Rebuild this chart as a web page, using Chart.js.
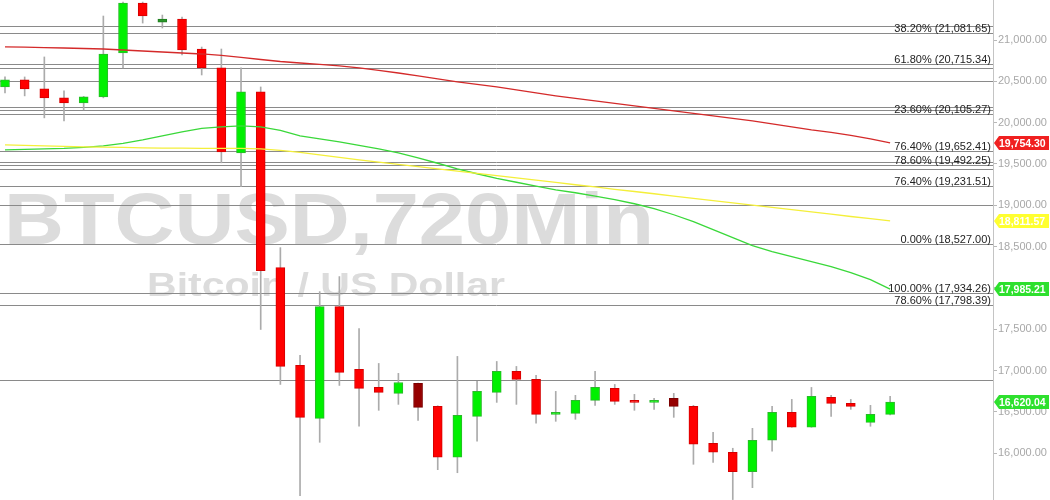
<!DOCTYPE html>
<html lang="en">
<head>
  <meta charset="UTF-8" />
  <title>BTCUSD 720Min</title>
  <script src="https://cdn.jsdelivr.net/npm/chart.js@4.4.1/dist/chart.umd.min.js"></script>
  <style>
    html, body { margin: 0; padding: 0; background: #fff; }
    #wrap { width: 1050px; height: 500px; position: relative; }
  </style>
</head>
<body>
  <div id="wrap">
    <canvas id="chart"></canvas>
  </div>

  <script>
    // candles, 720 min each
    const opens  = [20432, 20517, 20408, 20300, 20239, 20312, 20843, 21447, 21217, 21254,
                    20891, 20662, 19635, 20372, 18246, 17063, 16423, 17775, 17015, 16797,
                    16725, 16845, 16568, 15952, 16447, 16737, 16991, 16894, 16471, 16483,
                    16640, 16785, 16640, 16616, 16665, 16568, 16121, 16013, 15777, 16158,
                    16495, 16315, 16677, 16604, 16375, 16471];
    const highs  = [20553, 20553, 20795, 20384, 20318, 21290, 21459, 21459, 21302, 21278,
                    20915, 20891, 20662, 20432, 18488, 17184, 17956, 18138, 17510, 17087,
                    16967, 16850, 16575, 17172, 16870, 17111, 17051, 16943, 16749, 16701,
                    16991, 16833, 16713, 16665, 16725, 16580, 16254, 16061, 16302, 16568,
                    16652, 16797, 16701, 16652, 16580, 16689];
    const lows   = [20360, 20324, 20058, 20022, 20155, 20300, 20662, 21205, 21145, 20819,
                    20577, 19514, 19225, 17498, 16833, 15488, 16133, 16821, 16327, 16520,
                    16592, 16399, 15802, 15765, 16146, 16616, 16592, 16363, 16387, 16411,
                    16580, 16592, 16520, 16532, 16435, 15867, 15891, 15440, 15584, 16025,
                    16315, 16315, 16447, 16532, 16327, 16465];
    const closes = [20517, 20408, 20300, 20239, 20312, 20831, 21447, 21290, 21254, 20879,
                    20662, 19647, 20372, 18210, 17051, 16435, 17775, 16979, 16785, 16737,
                    16857, 16556, 15952, 16459, 16749, 16991, 16894, 16471, 16495, 16640,
                    16797, 16628, 16616, 16640, 16568, 16109, 16013, 15777, 16158, 16495,
                    16315, 16689, 16604, 16568, 16471, 16620.04];
    const darkCandles = [8, 21, 34];

    // moving averages
    const maRed = [20918, 20913, 20908, 20903, 20897, 20891, 20879, 20867, 20855, 20843,
                   20831, 20813, 20789, 20764, 20740, 20722, 20704, 20686, 20662, 20632,
                   20601, 20565, 20529, 20493, 20462, 20432, 20396, 20360, 20324, 20293,
                   20263, 20233, 20203, 20173, 20142, 20112, 20082, 20052, 20022, 19985,
                   19949, 19913, 19883, 19847, 19804, 19754.30];
    const maYellow = [19732, 19726, 19720, 19714, 19708, 19704, 19700, 19696, 19693, 19691,
                      19690, 19688, 19688, 19683, 19665, 19641, 19611, 19581, 19551, 19523,
                      19496, 19469, 19441, 19413, 19386, 19359, 19331, 19304, 19277, 19249,
                      19222, 19194, 19167, 19140, 19112, 19085, 19057, 19030, 19002, 18975,
                      18948, 18920, 18893, 18865, 18838, 18811.57];
    const maGreen = [19671, 19678, 19684, 19690, 19702, 19720, 19750, 19792, 19841, 19889,
                     19931, 19949, 19961, 19949, 19907, 19841, 19804, 19768, 19726, 19684,
                     19635, 19575, 19509, 19442, 19382, 19327, 19279, 19231, 19188, 19152,
                     19110, 19068, 19019, 18959, 18886, 18802, 18705, 18609, 18512, 18440,
                     18379, 18319, 18258, 18186, 18101, 17985.21];

    // fibonacci levels with labels, plus the plain lines
    const fibLevels = [21081.65, 20715.34, 20105.27, 19652.41, 19492.25, 19231.51, 18527.00, 17934.26, 17798.39];
    const fibPercents = ["38.20%", "61.80%", "23.60%", "76.40%", "78.60%", "76.40%", "0.00%", "100.00%", "78.60%"];
    const plainLevels = [21169, 20662, 20500, 20191, 20155, 19527, 19442, 19000, 16882];

    const yTicks = [16000, 16500, 17000, 17500, 18000, 18500, 19000, 19500, 20000, 20500, 21000];

    const fmt = v => v.toLocaleString("en-US", { minimumFractionDigits: 2, maximumFractionDigits: 2 });

    const GREEN = "#00f000", RED = "#ff0000";
    const bodyFill = opens.map((o, i) => {
      const up = closes[i] >= o;
      if (darkCandles.includes(i)) return up ? "#2a962a" : "#960000";
      return up ? GREEN : RED;
    });
    const bodyBorder = opens.map((o, i) => {
      const up = closes[i] >= o;
      if (darkCandles.includes(i)) return up ? "#1f7d1f" : "#7a0000";
      return up ? "#2bb82b" : "#d40000";
    });

    const idx = opens.map((_, i) => i);

    const backdrop = {
      id: "backdrop",
      beforeDraw(chart) {
        const { ctx } = chart;
        ctx.save();
        ctx.fillStyle = "#fff";
        ctx.fillRect(0, 0, chart.width, chart.height);
        ctx.fillStyle = "#dcdcdc";
        ctx.textBaseline = "alphabetic";
        ctx.font = "bold 73px 'Liberation Sans', Arial, sans-serif";
        let w = ctx.measureText("BTCUSD,720Min").width;
        ctx.save();
        ctx.translate(4, 244);
        ctx.scale(650 / w, 1);
        ctx.fillText("BTCUSD,720Min", 0, 0);
        ctx.restore();
        ctx.font = "bold 33px 'Liberation Sans', Arial, sans-serif";
        w = ctx.measureText("Bitcoin / US Dollar").width;
        ctx.save();
        ctx.translate(147, 296);
        ctx.scale(358 / w, 1);
        ctx.fillText("Bitcoin / US Dollar", 0, 0);
        ctx.restore();
        ctx.restore();
      },
      beforeDatasetsDraw(chart) {
        const { ctx, chartArea: a, scales: { y } } = chart;
        ctx.save();
        ctx.strokeStyle = "#8a8a8a";
        ctx.lineWidth = 1;
        [...plainLevels, ...fibLevels].forEach(v => {
          const py = Math.round(y.getPixelForValue(v)) + 0.5;
          ctx.beginPath();
          ctx.moveTo(a.left, py);
          ctx.lineTo(a.right, py);
          ctx.stroke();
        });
        ctx.fillStyle = "#222";
        ctx.font = "11px 'Liberation Sans', Arial, sans-serif";
        ctx.textAlign = "right";
        ctx.textBaseline = "bottom";
        fibLevels.forEach((v, i) => {
          const py = Math.round(y.getPixelForValue(v));
          ctx.fillText(`${fibPercents[i]} (${fmt(v)})`, a.right - 2, py + 1);
        });
        ctx.restore();
      },
      afterDraw(chart) {
        const { ctx, chartArea: a, scales: { y } } = chart;
        const tags = [
          [maRed[maRed.length - 1], "#f02020"],
          [maYellow[maYellow.length - 1], "#ffff30"],
          [maGreen[maGreen.length - 1], "#2ee02e"],
          [closes[closes.length - 1], "#2ee02e"]
        ];
        ctx.save();
        ctx.font = "bold 10.5px 'Liberation Sans', Arial, sans-serif";
        ctx.textBaseline = "middle";
        ctx.textAlign = "left";
        tags.forEach(([v, c]) => {
          const py = Math.round(y.getPixelForValue(v));
          const x0 = a.right + 1, h = 14;
          ctx.fillStyle = c;
          ctx.beginPath();
          ctx.moveTo(x0, py);
          ctx.lineTo(x0 + 5, py - h / 2);
          ctx.lineTo(1049, py - h / 2);
          ctx.lineTo(1049, py + h / 2);
          ctx.lineTo(x0 + 5, py + h / 2);
          ctx.closePath();
          ctx.fill();
          ctx.fillStyle = "#fff";
          ctx.fillText(fmt(v), x0 + 5, py + 1);
        });
        ctx.restore();
      }
    };

    new Chart(document.getElementById("chart"), {
      type: "bar",
      data: {
        datasets: [
          {
            type: "line",
            data: idx.map(i => ({ x: i, y: maRed[i] })),
            borderColor: "#d42a2a",
            borderWidth: 1.3,
            pointRadius: 0,
            order: 0
          },
          {
            type: "line",
            data: idx.map(i => ({ x: i, y: maYellow[i] })),
            borderColor: "#f4ef3a",
            borderWidth: 1.3,
            pointRadius: 0,
            order: 0
          },
          {
            type: "line",
            data: idx.map(i => ({ x: i, y: maGreen[i] })),
            borderColor: "#3ad83a",
            borderWidth: 1.3,
            pointRadius: 0,
            order: 0
          },
          {
            data: idx.map(i => ({ x: i, y: [opens[i], closes[i]] })),
            backgroundColor: bodyFill,
            borderColor: bodyBorder,
            borderWidth: 1,
            borderSkipped: false,
            barThickness: 9,
            grouped: false,
            order: 1
          },
          {
            data: idx.map(i => ({ x: i, y: [lows[i], highs[i]] })),
            backgroundColor: "#ababab",
            barThickness: 1,
            grouped: false,
            order: 2
          }
        ]
      },
      options: {
        responsive: true,
        maintainAspectRatio: false,
        animation: false,
        layout: { padding: 0 },
        plugins: { legend: { display: false }, tooltip: { enabled: false } },
        scales: {
          x: {
            type: "linear",
            min: -0.254,
            max: 50.23,
            display: false,
            offset: false
          },
          y: {
            position: "right",
            min: 15435,
            max: 21484,
            afterBuildTicks: s => { s.ticks = yTicks.map(v => ({ value: v })); },
            afterFit: s => { s.width = 57; s.paddingTop = 0; s.paddingBottom = 0; },
            border: { color: "#c4c4c4", width: 1 },
            grid: { drawOnChartArea: false, drawTicks: true, tickLength: 4, color: "#b8b8b8" },
            ticks: {
              color: "#a8a8a8",
              padding: 1,
              font: { family: "'Liberation Sans', Arial, sans-serif", size: 11 },
              callback: v => fmt(v)
            }
          }
        }
      },
      plugins: [backdrop]
    });
  </script>
</body>
</html>
